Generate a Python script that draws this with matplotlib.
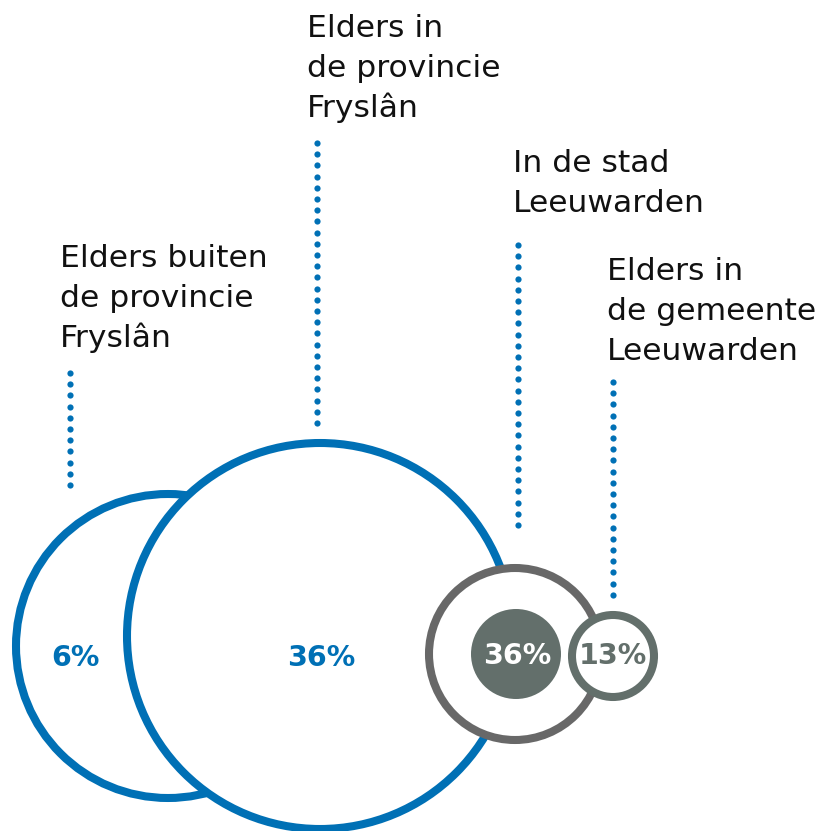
import matplotlib.pyplot as plt
from matplotlib.patches import Circle
import numpy as np

# data
categories = ['Elders buiten\nde provincie\nFryslân',
              'Elders in\nde provincie\nFryslân',
              'In de stad\nLeeuwarden',
              'Elders in\nde gemeente\nLeeuwarden']
shares = [6, 36, 36, 13]

BLUE = '#0070b5'
GRAY = '#686868'
GREEN_GRAY = '#636f6b'

# layout (pixels, y down)
circles = [  # (cx, cy, r, edge, face)
    (168, 646, 152, BLUE, 'white'),
    (320, 636, 193, BLUE, 'white'),
    (515, 654, 86, GRAY, 'white'),
    (613, 656, 41, GREEN_GRAY, 'white'),
]
inner_disc = (516, 654, 45)
label_xy = [(60, 267), (307, 37), (513, 172), (607, 280)]
lead_x = [70, 317, 518, 613]
lead_y = [(373, 495), (143, 424), (245, 534), (382, 594)]
pct_xy = [(75, 658), (321, 658), (517, 656), (613, 656)]
pct_col = [BLUE, BLUE, 'white', GREEN_GRAY]

fig = plt.figure(figsize=(8.25, 8.31), dpi=100)
ax = fig.add_axes([0, 0, 1, 1])
ax.set_xlim(0, 825)
ax.set_ylim(831, 0)
ax.set_aspect('equal')
ax.axis('off')

for cx, cy, r, ec, fc in circles:
    ax.add_patch(Circle((cx, cy), r, facecolor=fc, edgecolor=ec, lw=5.8))
# filled disc goes on top of the gray ring
ax.add_patch(Circle(inner_disc[:2], inner_disc[2], facecolor=GREEN_GRAY, edgecolor='none'))

# dotted leader lines
for x, (y0, y1) in zip(lead_x, lead_y):
    ys = np.arange(y0, y1 + 1, 11.2)
    ax.scatter(np.full(len(ys), x), ys, s=20, color=BLUE, linewidths=0, zorder=5)

# category labels, one line every 40 px
for (x, y), txt in zip(label_xy, categories):
    for i, line in enumerate(txt.split('\n')):
        ax.text(x, y + 40 * i, line, fontsize=22.6, color='#111111',
                ha='left', va='baseline', family='DejaVu Sans')

for (x, y), v, c in zip(pct_xy, shares, pct_col):
    ax.text(x, y, f'{v}%', fontsize=20.5, fontweight='bold', color=c,
            ha='center', va='center', family='DejaVu Sans')

fig.savefig('out.png', dpi=100)
